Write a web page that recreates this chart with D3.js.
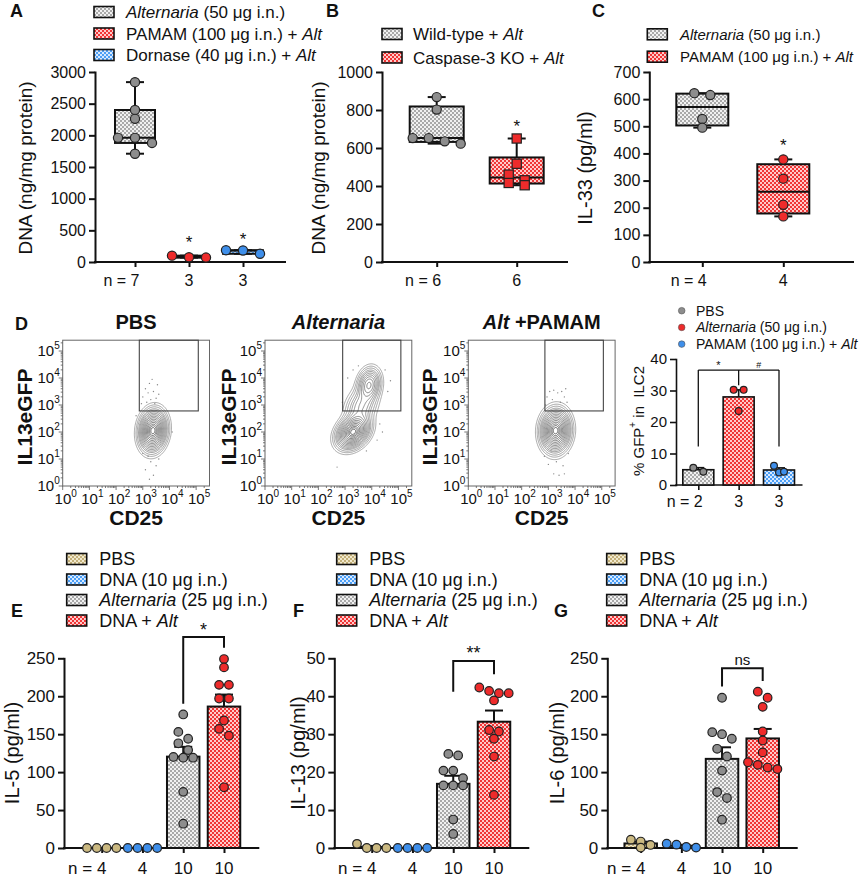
<!DOCTYPE html>
<html><head><meta charset="utf-8">
<script src="https://cdn.jsdelivr.net/npm/d3@7"></script>
<style>
body{margin:0;background:#fff}
svg text{font-family:"Liberation Sans",Arial,Helvetica,sans-serif;fill:#111;white-space:pre}
</style></head><body>
<svg id="fig" width="864" height="877" xmlns="http://www.w3.org/2000/svg"></svg>
<script>
// ---------------- DATA ----------------
// Panel A (box plots, DNA ng/mg protein)
const aLegend = ["*Alternaria* (50 μg i.n.)", "PAMAM (100 μg i.n.) + *Alt*", "Dornase (40 μg i.n.) + *Alt*"];
const aN = ["7", "3", "3"];
const aAlternaria = [2840, 2400, 2260, 1880, 1710, 1960, 1960];
const aPamam = [70, 100, 75];
const aDornase = [130, 185, 182];
const aTicks = [0, 500, 1000, 1500, 2000, 2500, 3000];
const aStars = [null, 368, 421];

// Panel B
const bLegend = ["Wild-type + *Alt*", "Caspase-3 KO + *Alt*"];
const bN = ["6", "6"];
const bWildType = [868, 802, 652, 652, 635, 623];
const bCasp3KO = [650, 517, 460, 430, 416, 404];
const bTicks = [0, 200, 400, 600, 800, 1000];
const bStars = [null, 732];

// Panel C
const cLegend = ["*Alternaria* (50 μg i.n.)", "PAMAM (100 μg i.n.) + *Alt*"];
const cN = ["4", "4"];
const cAlternaria = [622, 615, 527, 495];
const cPamam = [378, 307, 211, 168];
const cTicks = [0, 100, 200, 300, 400, 500, 600, 700];
const cStars = [null, 442];

// Panel D flow plots (log10 coordinates): populations [cx, cy, sx, sy, rho, weight]
const flowTitles = ["PBS", "*Alternaria*", "*Alt* +PAMAM"];
const flowPopsPBS = [[3.38, 2.05, 0.24, 0.36, 0.1, 1.0]];
const flowPopsAlt = [[3.3, 2.0, 0.29, 0.29, 0.3, 1.0], [3.6, 2.95, 0.3, 0.38, 0.3, 0.2], [3.9, 3.75, 0.21, 0.3, 0.15, 0.42]];
const flowPopsPamam = [[3.27, 2.05, 0.26, 0.37, 0.05, 1.0]];
const flowDotsPBS = [[3.0,3.3],[3.1,3.6],[3.2,3.45],[3.3,3.2],[3.4,3.5],[3.5,3.25],[3.6,3.4],[3.25,3.8],[3.45,3.05],[2.95,3.05],[3.15,3.1],[3.55,3.75],[3.35,3.95],[3.3,0.9],[3.1,0.6],[3.4,0.4],[3.2,1.1],[3.5,0.75],[3.25,0.25],[3.0,1.2],[3.6,1.0],[4.1,2.0],[2.75,2.6]];
const flowDotsAlt = [[3.3,4.3],[4.5,4.3],[4.6,3.5],[3.1,4.0],[4.3,2.3],[4.4,2.0],[3.8,1.3],[2.7,0.7],[4.7,3.9],[3.5,4.45],[4.2,1.7],[2.9,3.1]];
const flowDotsPamam = [[2.95,3.3],[3.05,3.5],[3.2,3.55],[3.35,3.45],[3.5,3.5],[3.6,3.3],[3.7,3.1],[3.15,3.2],[2.9,3.0],[3.45,3.1],[3.3,0.9],[3.0,0.8],[3.55,0.75],[3.2,0.45],[3.4,0.4],[3.6,0.45],[2.85,1.1],[3.75,1.2],[3.1,1.3],[3.65,3.6]];
const flowGates = [[2.87, 5.08, 2.78], [2.91, 5.09, 2.78], [2.87, 5.06, 2.78]]; // xmin, xmax, ymin (log10)
const flowDecades = [0, 1, 2, 3, 4, 5];

// Panel D bar chart (% GFP+ in ILC2)
const dLegend = ["PBS", "*Alternaria* (50 μg i.n.)", "PAMAM (100 μg i.n.) + *Alt*"];
const dN = ["2", "3", "3"];
const dPBS = [4.2, 5.5];
const dAlternaria = [30.2, 30.2, 23.5];
const dPamam = [4.0, 6.1, 4.2];
const dTicks = [0, 10, 20, 30, 40];

// Panels E, F, G (bar charts)
const efgLegend = ["PBS", "DNA (10 μg i.n.)", "*Alternaria* (25 μg i.n.)", "DNA + *Alt*"];
const efgN = ["4", "4", "10", "10"];
const eIL5 = {
  pbs: [0, 0, 0, 0], dna: [0, 0, 0, 0],
  alt: [176, 153, 144, 138, 129, 120, 119, 119, 74, 32],
  dnaAlt: [249, 238, 215, 215, 197, 197, 168, 157, 148, 80]
};
const fIL13 = {
  pbs: [0, 1.1, 0, 0], dna: [0, 0, 0, 0],
  alt: [24.8, 24.4, 20.4, 20.4, 18.4, 16.5, 16.5, 16.5, 7.5, 3.7],
  dnaAlt: [42.3, 41.4, 40.8, 40.8, 38.9, 31.1, 30.7, 28.8, 24.1, 14]
};
const gIL6 = {
  pbs: [11, 8.5, 4, 0.5], dna: [5.7, 4.4, 1.3, 0.5],
  alt: [198, 152.6, 150, 144, 130.7, 120.6, 102, 73.7, 65.8, 37.3],
  dnaAlt: [206, 198, 186, 153.5, 141.7, 126, 113, 109.6, 106, 104]
};
const eTicks = [0, 50, 100, 150, 200, 250];
const fTicks = [0, 10, 20, 30, 40, 50];
const gTicks = [0, 50, 100, 150, 200, 250];
// significance brackets [top, leftEnd, rightEnd, labelValue, label]
const eSig = [278, 190, 264, 292, "*"];
const fSig = [49.3, 41.2, 45.8, 52.5, "**"];
const gSig = [237, 213, 220, 249, "ns"];

// ---------------- SETUP ----------------
const svg = d3.select("#fig");
const PAL = {
  gray: {dark: "#a9a9a9", light: "#f1f1f1", pt: "#8d8d8d"},
  red:  {dark: "#f03535", light: "#ffcaca", pt: "#ee2b2b"},
  blue: {dark: "#4d9ff5", light: "#d7e9ff", pt: "#3f8fea"},
  tan:  {dark: "#c3b07a", light: "#f1e9cd", pt: "#cbb981"}
};
const defs = svg.append("defs");
Object.entries(PAL).forEach(([k, c]) => {
  const p = defs.append("pattern").attr("id", "pat-" + k).attr("patternUnits", "userSpaceOnUse")
    .attr("width", 4).attr("height", 4);
  p.append("rect").attr("width", 4).attr("height", 4).attr("fill", c.light);
  p.append("rect").attr("width", 2).attr("height", 2).attr("fill", c.dark);
  p.append("rect").attr("x", 2).attr("y", 2).attr("width", 2).attr("height", 2).attr("fill", c.dark);
});

function rich(g, x, y, str, size, opts = {}) {
  const t = g.append("text").attr("x", x).attr("y", y).attr("font-size", size);
  if (opts.anchor) t.attr("text-anchor", opts.anchor);
  if (opts.weight) t.attr("font-weight", opts.weight);
  str.split("*").forEach((seg, i) => {
    if (seg) t.append("tspan").attr("font-style", i % 2 ? "italic" : "normal").text(seg);
  });
  return t;
}
function panelLabel(x, y, s, size = 18) {
  svg.append("text").attr("x", x).attr("y", y).attr("font-size", size).attr("font-weight", "bold").text(s);
}
function quantGP(sorted, p) {
  const n = sorted.length, h = (n + 1) * p;
  if (h <= 1) return sorted[0];
  if (h >= n) return sorted[n - 1];
  const lo = Math.floor(h);
  return sorted[lo - 1] + (h - lo) * (sorted[lo] - sorted[lo - 1]);
}
function swarm(values, ys, r, step) {
  const idx = values.map((v, i) => i).sort((a, b) => values[b] - values[a]);
  const off = new Array(values.length).fill(0);
  let cl = [];
  const flush = () => { const k = cl.length; cl.forEach((id, j) => off[id] = (j - (k - 1) / 2) * step); cl = []; };
  idx.forEach(id => {
    if (cl.length && Math.abs(ys(values[cl[0]]) - ys(values[id])) >= 2 * r * 0.9) flush();
    cl.push(id);
  });
  flush();
  return off;
}
function drawPoints(g, cx, vals, ys, col, r, step, shape) {
  const off = swarm(vals, ys, r, step);
  vals.forEach((v, i) => {
    if (shape === "square") {
      g.append("rect").attr("x", cx + off[i] - r).attr("y", ys(v) - r).attr("width", 2 * r).attr("height", 2 * r)
        .attr("fill", PAL[col].pt).attr("stroke", "#222").attr("stroke-width", 1.2);
    } else {
      g.append("circle").attr("cx", cx + off[i]).attr("cy", ys(v)).attr("r", r)
        .attr("fill", PAL[col].pt).attr("stroke", "#222").attr("stroke-width", 1.2);
    }
  });
}
function boxPlot(g, cx, vals, ys, col, w, r, step, shape) {
  const s = vals.slice().sort(d3.ascending);
  const q1 = quantGP(s, .25), med = quantGP(s, .5), q3 = quantGP(s, .75), mn = s[0], mx = s[s.length - 1];
  const ln = (x1, y1, x2, y2) => g.append("line").attr("x1", x1).attr("y1", y1).attr("x2", x2).attr("y2", y2)
    .attr("stroke", "#111").attr("stroke-width", 2);
  ln(cx, ys(mx), cx, ys(q3)); ln(cx, ys(q1), cx, ys(mn));
  ln(cx - 9, ys(mx), cx + 9, ys(mx)); ln(cx - 9, ys(mn), cx + 9, ys(mn));
  g.append("rect").attr("x", cx - w / 2).attr("y", ys(q3)).attr("width", w).attr("height", Math.max(0.5, ys(q1) - ys(q3)))
    .attr("fill", `url(#pat-${col})`).attr("stroke", "#111").attr("stroke-width", 2);
  ln(cx - w / 2, ys(med), cx + w / 2, ys(med));
  drawPoints(g, cx, vals, ys, col, r, step, shape);
}
function barPlot(g, cx, vals, ys, col, w, r, step, cap, sw) {
  const m = d3.mean(vals), se = (d3.deviation(vals) || 0) / Math.sqrt(vals.length);
  g.append("rect").attr("x", cx - w / 2).attr("y", ys(m)).attr("width", w).attr("height", ys(0) - ys(m))
    .attr("fill", `url(#pat-${col})`).attr("stroke", "#111").attr("stroke-width", sw);
  if (se > 0) {
    g.append("line").attr("x1", cx).attr("x2", cx).attr("y1", ys(m)).attr("y2", ys(m + se)).attr("stroke", "#111").attr("stroke-width", sw);
    g.append("line").attr("x1", cx - cap / 2).attr("x2", cx + cap / 2).attr("y1", ys(m + se)).attr("y2", ys(m + se)).attr("stroke", "#111").attr("stroke-width", sw);
  }
  drawPoints(g, cx, vals, ys, col, r, step, "circle");
}
function axes(g, ys, x0, x1, ticks, fs, sw, xs) {
  const ax = g.append("g").attr("transform", `translate(${x0},0)`)
    .call(d3.axisLeft(ys).tickValues(ticks).tickFormat(d3.format("d")).tickSize(6).tickSizeOuter(0).tickPadding(3));
  ax.select(".domain").attr("stroke", "#111").attr("stroke-width", sw).attr("stroke-linecap", "square");
  ax.selectAll(".tick line").attr("stroke", "#111").attr("stroke-width", sw);
  ax.selectAll(".tick text").attr("font-size", fs).attr("fill", "#111").attr("font-family", null);
  g.append("line").attr("x1", x0).attr("x2", x1).attr("y1", ys(0)).attr("y2", ys(0))
    .attr("stroke", "#111").attr("stroke-width", sw).attr("stroke-linecap", "square");
  const bx = g.append("g").attr("transform", `translate(0,${ys(0)})`)
    .call(d3.axisBottom(xs).tickSize(5).tickFormat(""));
  bx.select(".domain").remove();
  bx.selectAll(".tick line").attr("stroke", "#111").attr("stroke-width", sw);
}
function nLabels(g, xs, cats, ns, y, fs) {
  cats.forEach((c, i) => {
    const t = g.append("text").attr("x", xs(c)).attr("y", y).attr("font-size", fs).attr("text-anchor", "middle").text(ns[i]);
    if (i === 0) {
      const w = t.node().getComputedTextLength();
      g.append("text").attr("x", xs(c) - w / 2 - fs * 0.28).attr("y", y).attr("font-size", fs).attr("text-anchor", "end").text("n =");
    }
  });
}
function yLabel(g, x, y, s, fs) {
  g.append("text").attr("transform", `translate(${x},${y}) rotate(-90)`).attr("text-anchor", "middle")
    .attr("dominant-baseline", "central").attr("font-size", fs).text(s);
}
function boxLegend(g, x, ys0, labels, cols, fs, tx, gap) {
  labels.forEach((l, i) => {
    const y = ys0 + i * gap;
    g.append("rect").attr("x", x).attr("y", y - 5.5).attr("width", 20).attr("height", 11)
      .attr("fill", `url(#pat-${cols[i]})`).attr("stroke", "#111").attr("stroke-width", 1.6);
    rich(g, tx, y + fs * 0.36, l, fs);
  });
}
function star(g, x, yv, ys, s, fs) {
  g.append("text").attr("x", x).attr("y", ys(yv) + fs * 0.55).attr("text-anchor", "middle").attr("font-size", fs).text(s);
}

// ---------------- PANEL A ----------------
{
  const g = svg.append("g");
  const ys = d3.scaleLinear().domain([0, 3000]).range([262, 72]);
  const cats = ["alt", "pamam", "dornase"];
  const xs = d3.scalePoint().domain(cats).range([135, 243]);
  axes(g, ys, 95, 285, aTicks, 16, 2, xs);
  const sets = [aAlternaria, aPamam, aDornase], cols = ["gray", "red", "blue"];
  sets.forEach((v, i) => boxPlot(g, xs(cats[i]), v, ys, cols[i], 40, 4.6, 17, "circle"));
  aStars.forEach((v, i) => { if (v != null) star(g, xs(cats[i]), v, ys, "*", 17); });
  nLabels(g, xs, cats, aN, 286, 16);
  yLabel(g, 25, 168, "DNA (ng/mg protein)", 19);
  boxLegend(g, 94, 12, aLegend, cols, 17, 126, 21.5);
  panelLabel(10, 17, "A");
}
// ---------------- PANEL B ----------------
{
  const g = svg.append("g");
  const ys = d3.scaleLinear().domain([0, 1000]).range([262, 72]);
  const cats = ["wt", "ko"];
  const xs = d3.scalePoint().domain(cats).range([436.7, 516.7]);
  axes(g, ys, 382, 567, bTicks, 16, 2, xs);
  boxPlot(g, xs("wt"), bWildType, ys, "gray", 54, 4.6, 16, "circle");
  boxPlot(g, xs("ko"), bCasp3KO, ys, "red", 54, 4.6, 16, "square");
  bStars.forEach((v, i) => { if (v != null) star(g, xs(cats[i]), v, ys, "*", 17); });
  nLabels(g, xs, cats, bN, 286, 16);
  yLabel(g, 318, 168, "DNA (ng/mg protein)", 19);
  boxLegend(g, 382, 34, bLegend, ["gray", "red"], 17, 413, 23.5);
  panelLabel(326, 17, "B");
}
// ---------------- PANEL C ----------------
{
  const g = svg.append("g");
  const ys = d3.scaleLinear().domain([0, 700]).range([262, 72]);
  const cats = ["alt", "pamam"];
  const xs = d3.scalePoint().domain(cats).range([702.3, 783.3]);
  axes(g, ys, 649.3, 853, cTicks, 16, 2, xs);
  boxPlot(g, xs("alt"), cAlternaria, ys, "gray", 52, 4.6, 16, "circle");
  boxPlot(g, xs("pamam"), cPamam, ys, "red", 52, 4.6, 16, "circle");
  cStars.forEach((v, i) => { if (v != null) star(g, xs(cats[i]), v, ys, "*", 17); });
  nLabels(g, xs, cats, cN, 286, 16);
  yLabel(g, 585, 168, "IL-33 (pg/ml)", 20);
  boxLegend(g, 647.3, 34.3, cLegend, ["gray", "red"], 15, 680, 22.4);
  panelLabel(592, 17, "C");
}

// ---------------- PANEL D : flow plots ----------------
const contourLevels = [0.015, 0.03, 0.05, 0.08, 0.11, 0.15, 0.2, 0.26, 0.33, 0.41, 0.5, 0.6, 0.7, 0.8, 0.88, 0.95];
function flowPanel(x0, ylabX, title, pops, dots, gate) {
  const g = svg.append("g");
  const xs = d3.scaleLinear().domain([0, 5.5]).range([x0, x0 + 146.8]);
  const ys = d3.scaleLinear().domain([0, 5.4]).range([486, 340.2]);
  const step = 0.03, nx = Math.round(5.5 / step), ny = Math.round(5.4 / step);
  const vals = new Float64Array(nx * ny);
  for (let j = 0; j < ny; j++) {
    const ly = 5.4 - (j + 0.5) * step;
    for (let i = 0; i < nx; i++) {
      const lx = (i + 0.5) * step;
      let s = 0;
      pops.forEach(([cx, cy, sx, sy, rho, w]) => {
        const dx = (lx - cx) / sx, dy = (ly - cy) / sy;
        s += w * Math.exp(-0.5 / (1 - rho * rho) * (dx * dx - 2 * rho * dx * dy + dy * dy));
      });
      vals[j * nx + i] = s;
    }
  }
  const mx = d3.max(vals);
  const cs = d3.contours().size([nx, ny]).thresholds(contourLevels.map(f => f * mx))(vals);
  const proj = d3.geoTransform({point(px, py) { this.stream.point(xs(px * step), ys(5.4 - py * step)); }});
  const path = d3.geoPath(proj);
  g.append("g").selectAll("path").data(cs).join("path").attr("d", path)
    .attr("fill", "none").attr("stroke", (d, i) => d3.interpolateRgb("#8a8a8a", "#3a3a3a")(i / cs.length))
    .attr("stroke-width", 0.75);
  g.append("g").selectAll("circle").data(dots).join("circle")
    .attr("cx", d => xs(d[0])).attr("cy", d => ys(d[1])).attr("r", 0.7).attr("fill", "#888");
  g.append("rect").attr("x", xs(0)).attr("y", ys(5.4)).attr("width", xs(5.5) - xs(0)).attr("height", ys(0) - ys(5.4))
    .attr("fill", "none").attr("stroke", "#666").attr("stroke-width", 1);
  g.append("rect").attr("x", xs(gate[0])).attr("y", ys(5.4)).attr("width", xs(gate[1]) - xs(gate[0]))
    .attr("height", ys(gate[2]) - ys(5.4)).attr("fill", "none").attr("stroke", "#444").attr("stroke-width", 1.1);
  const minor = [];
  flowDecades.forEach(d => { for (let k = 2; k <= 9; k++) { const v = d + Math.log10(k); if (v <= 5.4) minor.push(v); } });
  const tk = (x1, y1, x2, y2) => g.append("line").attr("x1", x1).attr("y1", y1).attr("x2", x2).attr("y2", y2).attr("stroke", "#555").attr("stroke-width", 0.8);
  flowDecades.forEach(d => { tk(xs(d), ys(0), xs(d), ys(0) + 4); tk(xs(0) - 4, ys(d), xs(0), ys(d)); });
  minor.forEach(v => { tk(xs(v), ys(0), xs(v), ys(0) + 2); tk(xs(0) - 2, ys(v), xs(0), ys(v)); });
  flowDecades.forEach(d => {
    const t = g.append("text").attr("x", xs(d) + 3).attr("y", ys(0) + 18).attr("text-anchor", "middle").attr("font-size", 15);
    t.append("tspan").text("10"); t.append("tspan").attr("font-size", 10).attr("dy", -7).text(d);
    const t2 = g.append("text").attr("x", xs(0) - 3).attr("y", ys(d) + 5).attr("text-anchor", "end").attr("font-size", 15);
    t2.append("tspan").text("10"); t2.append("tspan").attr("font-size", 10).attr("dy", -7).text(d);
  });
  g.append("text").attr("x", xs(2.75)).attr("y", 525).attr("text-anchor", "middle").attr("font-size", 21).attr("font-weight", "bold").text("CD25");
  g.append("text").attr("transform", `translate(${ylabX},417) rotate(-90)`).attr("text-anchor", "middle")
    .attr("dominant-baseline", "central").attr("font-size", 21).attr("font-weight", "bold").text("IL13eGFP");
  rich(g, xs(2.75), 329, title, 20, {anchor: "middle", weight: "bold"});
}
flowPanel(62.7, 24, flowTitles[0], flowPopsPBS, flowDotsPBS, flowGates[0]);
flowPanel(265, 228, flowTitles[1], flowPopsAlt, flowDotsAlt, flowGates[1]);
flowPanel(468.3, 429, flowTitles[2], flowPopsPamam, flowDotsPamam, flowGates[2]);
panelLabel(15, 330, "D");

// ---------------- PANEL D : bar chart ----------------
{
  const g = svg.append("g");
  const ys = d3.scaleLinear().domain([0, 40]).range([485, 359]);
  const cats = ["pbs", "alt", "pamam"];
  const xs = d3.scalePoint().domain(cats).range([698.3, 779]);
  axes(g, ys, 676, 801.7, dTicks, 15, 1.6, xs);
  const sets = [dPBS, dAlternaria, dPamam], cols = ["gray", "red", "blue"];
  const br = (x1, y1, x2, y2) => g.append("line").attr("x1", x1).attr("y1", y1).attr("x2", x2).attr("y2", y2).attr("stroke", "#111").attr("stroke-width", 1.3);
  br(xs("pbs"), ys(36.5), xs("pamam"), ys(36.5));
  br(xs("pbs"), ys(36.5), xs("pbs"), ys(12.2));
  br(xs("pamam"), ys(36.5), xs("pamam"), ys(12.2));
  br(xs("alt"), ys(36.5), xs("alt"), ys(31.7));
  g.append("text").attr("x", (xs("pbs") + xs("alt")) / 2).attr("y", ys(38.5) + 5).attr("text-anchor", "middle").attr("font-size", 11).text("*");
  g.append("text").attr("x", (xs("alt") + xs("pamam")) / 2).attr("y", ys(38.5) + 4).attr("text-anchor", "middle").attr("font-size", 9).text("#");
  sets.forEach((v, i) => barPlot(g, xs(cats[i]), v, ys, cols[i], 31, 3.4, 10, 12, 1.6));
  nLabels(g, xs, cats, dN, 507, 16);
  const yl = g.append("text").attr("transform", "translate(638,421) rotate(-90)").attr("text-anchor", "middle")
    .attr("dominant-baseline", "central").attr("font-size", 15);
  yl.append("tspan").text("% GFP");
  yl.append("tspan").attr("font-size", 10).attr("dy", -6).text("+");
  yl.append("tspan").attr("dy", 6).text(" in  ILC2");
  dLegend.forEach((l, i) => {
    const y = 310.7 + i * 16.7;
    g.append("circle").attr("cx", 681.7).attr("cy", y).attr("r", 3.3).attr("fill", PAL[cols[i]].pt).attr("stroke", "#555").attr("stroke-width", 0.6);
    rich(g, 696, y + 5, l, 14);
  });
}

// ---------------- PANELS E, F, G ----------------
function cytoPanel(x0, x1, first, last, data, ticks, ymax, sig, ylab, ylabX, lbl, lblX, legX) {
  const g = svg.append("g");
  const ys = d3.scaleLinear().domain([0, ymax]).range([848, 658.3]);
  const cats = ["pbs", "dna", "alt", "dnaAlt"];
  const cols = ["tan", "blue", "gray", "red"];
  const xs = d3.scalePoint().domain(cats).range([first, last]);
  axes(g, ys, x0, x1, ticks, 17, 2, xs);
  cats.forEach((c, i) => barPlot(g, xs(c), data[c], ys, cols[i], 32.5, 4.3, 9.8, 18, 2));
  const [top, le, re, lv, txt] = sig;
  const p = d3.path();
  p.moveTo(xs("alt"), ys(le)); p.lineTo(xs("alt"), ys(top)); p.lineTo(xs("dnaAlt"), ys(top)); p.lineTo(xs("dnaAlt"), ys(re));
  g.append("path").attr("d", p.toString()).attr("fill", "none").attr("stroke", "#111").attr("stroke-width", 2);
  const isStar = txt.indexOf("*") >= 0;
  g.append("text").attr("x", (xs("alt") + xs("dnaAlt")) / 2).attr("y", ys(lv) + (isStar ? 10 : 6))
    .attr("text-anchor", "middle").attr("font-size", isStar ? 18 : 15).text(txt);
  nLabels(g, xs, cats, efgN, 874, 17);
  yLabel(g, ylabX, 753, ylab, 20);
  boxLegend(g, legX, 559, efgLegend, cols, 18, legX + 32.6, 20.5);
  panelLabel(lblX, 617, lbl);
}
cytoPanel(64, 258.3, 101.7, 224, eIL5, eTicks, 250, eSig, "IL-5 (pg/ml)", 12, "E", 11, 66.7);
cytoPanel(334.3, 528.3, 371.7, 494, fIL13, fTicks, 50, fSig, "IL-13 (pg/ml)", 298, "F", 293, 336.7);
cytoPanel(607.3, 796.7, 640.7, 762.7, gIL6, gTicks, 250, gSig, "IL-6 (pg/ml)", 557, "G", 554, 606.7);
</script>
</body></html>
